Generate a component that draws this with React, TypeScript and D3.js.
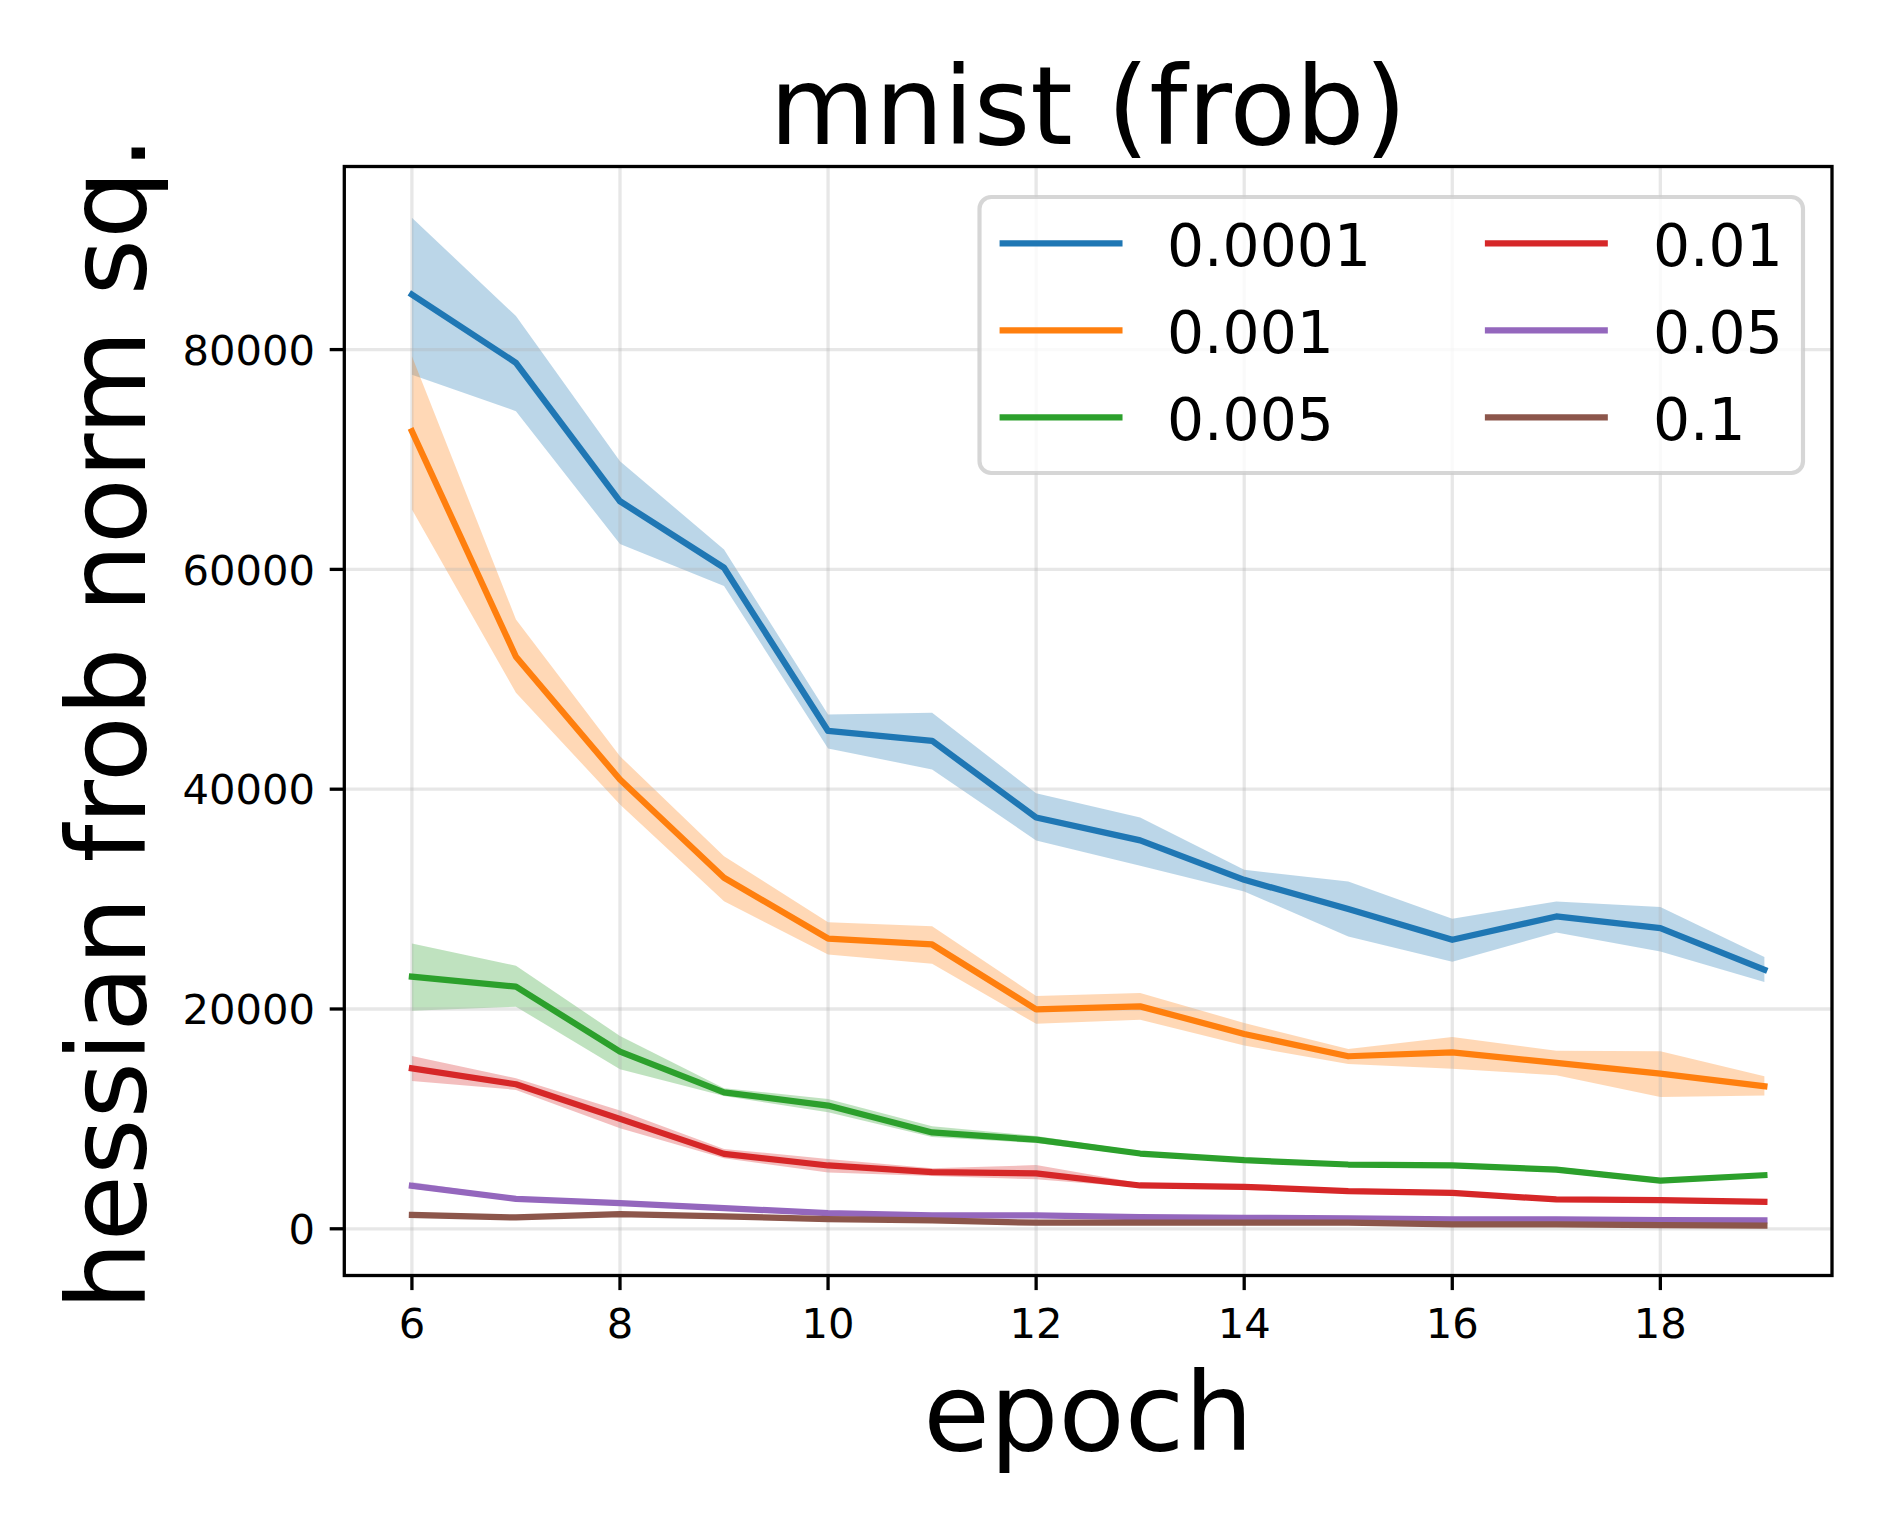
import React from "react";
import * as d3 from "d3";

const epochs = [6, 7, 8, 9, 10, 11, 12, 13, 14, 15, 16, 17, 18, 19];

const labels = ["0.0001", "0.001", "0.005", "0.01", "0.05", "0.1"];
const colors = ["#1f77b4", "#ff7f0e", "#2ca02c", "#d62728", "#9467bd", "#8c564b"];

const mean0001 = [85000, 78800, 66200, 60150, 45300, 44400, 37430, 35340, 31750, 29090, 26300, 28420, 27360, 23570];
const lo0001 = [77700, 74400, 62300, 58500, 43700, 41800, 35340, 33040, 30700, 26600, 24300, 26970, 25240, 22450];
const hi0001 = [92000, 83050, 69850, 61800, 46800, 46950, 39630, 37430, 32660, 31600, 28210, 29780, 29270, 24720];

const mean001 = [72570, 52050, 40880, 31940, 26410, 25870, 19970, 20240, 17730, 15700, 16060, 15090, 14120, 12970];
const lo001 = [65450, 48770, 38610, 29810, 24960, 24110, 18650, 19030, 16670, 15000, 14570, 13970, 12000, 12120];
const hi001 = [79400, 55440, 43000, 33900, 27900, 27530, 21180, 21450, 18730, 16360, 17450, 16210, 16150, 13880];

const mean005 = [22940, 22030, 16120, 12420, 11210, 8770, 8110, 6850, 6240, 5850, 5760, 5390, 4390, 4880];
const lo005 = [19850, 20210, 14510, 12090, 10600, 8350, 7800, 6650, 6050, 5700, 5600, 5150, 4150, 4700];
const hi005 = [25970, 23940, 17540, 12790, 11820, 9340, 8450, 7050, 6400, 6000, 5900, 5650, 4600, 5050];

const mean01 = [14600, 13150, 10000, 6820, 5760, 5150, 5050, 3940, 3820, 3420, 3270, 2670, 2610, 2450];
const lo01 = [13450, 12640, 9150, 6420, 5120, 4800, 4500, 3750, 3650, 3300, 3150, 2550, 2500, 2350];
const hi01 = [15730, 13700, 10760, 7270, 6360, 5500, 5800, 4150, 3980, 3550, 3400, 2800, 2720, 2550];

const mean05 = [3910, 2730, 2330, 1880, 1420, 1210, 1210, 1060, 1000, 940, 850, 850, 790, 760];
const lo05 = [3650, 2600, 2200, 1780, 1330, 1130, 1130, 990, 930, 880, 790, 790, 730, 700];
const hi05 = [4250, 2850, 2450, 1980, 1510, 1290, 1290, 1130, 1070, 1000, 910, 910, 850, 820];

const mean1 = [1270, 1030, 1330, 1120, 880, 770, 550, 550, 550, 550, 400, 400, 330, 300];
const lo1 = [1190, 950, 1250, 1040, 800, 690, 470, 470, 470, 470, 320, 320, 250, 220];
const hi1 = [1350, 1110, 1410, 1200, 960, 850, 630, 630, 630, 630, 480, 480, 410, 380];

const means = [mean0001, mean001, mean005, mean01, mean05, mean1];
const lows = [lo0001, lo001, lo005, lo01, lo05, lo1];
const highs = [hi0001, hi001, hi005, hi01, hi05, hi1];

const xTicks = [6, 8, 10, 12, 14, 16, 18];
const yTicks = [0, 20000, 40000, 60000, 80000];

const titleText = "mnist (frob)";
const xLabelText = "epoch";
const yLabelText = "hessian frob norm sq.";

const W = 1892;
const H = 1530;
const L = 344.3;
const R = 1832;
const T = 166.5;
const B = 1275.5;
const FONT = "DejaVu Sans";

export default function App() {
  const x = d3.scaleLinear().domain([5.35, 19.65]).range([L, R]);
  const y = d3.scaleLinear().domain([-4250, 96660]).range([B, T]);

  const line = d3
    .line<number>()
    .x((_, i) => x(epochs[i]))
    .y((d) => y(d));

  const area = (lo: number[], hi: number[]) =>
    d3
      .area<number>()
      .x((_, i) => x(epochs[i]))
      .y0((_, i) => y(lo[i]))
      .y1((_, i) => y(hi[i]))(epochs) || "";

  const tickLen = 14.6;
  const lw = 6.25;
  const bigFont = 108.3;

  // legend layout
  const legFont = 58.3;
  const legBox = { x: 979.5, y: 197, w: 823.5, h: 276 };
  const rowY = [243.3, 330.3, 417.3];
  const colHandleX = [1002.7, 1488];
  const colTextX = [1167, 1653];
  const handleLen = 116.7;

  return (
    <div style={{ position: "absolute", left: 0, top: 0 }}>
      <svg width={W} height={H} viewBox={`0 0 ${W} ${H}`} style={{ display: "block", background: "#ffffff" }}>
        <rect x={0} y={0} width={W} height={H} fill="#ffffff" />
        {/* bands */}
        {means.map((_, k) => (
          <path key={"band" + k} d={area(lows[k], highs[k])} fill={colors[k]} fillOpacity={0.3} stroke="none" />
        ))}
        {/* grid */}
        {xTicks.map((t) => (
          <line key={"gx" + t} x1={x(t)} x2={x(t)} y1={T} y2={B} stroke="#b0b0b0" strokeOpacity={0.3} strokeWidth={3.3} />
        ))}
        {yTicks.map((t) => (
          <line key={"gy" + t} x1={L} x2={R} y1={y(t)} y2={y(t)} stroke="#b0b0b0" strokeOpacity={0.3} strokeWidth={3.3} />
        ))}
        {/* lines */}
        {means.map((m, k) => (
          <path
            key={"line" + k}
            d={line(m) || ""}
            fill="none"
            stroke={colors[k]}
            strokeWidth={lw}
            strokeLinejoin="round"
            strokeLinecap="square"
          />
        ))}
        {/* spines */}
        <rect x={L} y={T} width={R - L} height={B - T} fill="none" stroke="#000" strokeWidth={3.3} />
        {/* x ticks */}
        {xTicks.map((t) => (
          <g key={"xt" + t}>
            <line x1={x(t)} x2={x(t)} y1={B} y2={B + tickLen} stroke="#000" strokeWidth={3.3} />
            <text x={x(t)} y={1337.5} textAnchor="middle" fontFamily={FONT} fontSize={41.7} fill="#000">
              {String(t)}
            </text>
          </g>
        ))}
        {/* y ticks */}
        {yTicks.map((t) => (
          <g key={"yt" + t}>
            <line x1={L - tickLen} x2={L} y1={y(t)} y2={y(t)} stroke="#000" strokeWidth={3.3} />
            <text x={L - tickLen - 14.6} y={y(t) + 15.2} textAnchor="end" fontFamily={FONT} fontSize={41.7} fill="#000">
              {String(t)}
            </text>
          </g>
        ))}
        {/* title */}
        <text x={(L + R) / 2} y={143.5} textAnchor="middle" fontFamily={FONT} fontSize={bigFont} fill="#000">
          {titleText}
        </text>
        {/* x label */}
        <text x={(L + R) / 2} y={1450} textAnchor="middle" fontFamily={FONT} fontSize={bigFont} fill="#000">
          {xLabelText}
        </text>
        {/* y label */}
        <text
          transform={`translate(145, ${(T + B) / 2 + 2}) rotate(-90)`}
          textAnchor="middle"
          fontFamily={FONT}
          fontSize={bigFont}
          fill="#000"
        >
          {yLabelText}
        </text>
        {/* legend */}
        <rect
          x={legBox.x}
          y={legBox.y}
          width={legBox.w}
          height={legBox.h}
          rx={11.7}
          ry={11.7}
          fill="#ffffff"
          fillOpacity={0.8}
          stroke="#cccccc"
          strokeOpacity={0.8}
          strokeWidth={4.17}
        />
        {labels.map((lab, k) => {
          const col = Math.floor(k / 3);
          const row = k % 3;
          const ly = rowY[row];
          return (
            <g key={"leg" + k}>
              <line
                x1={colHandleX[col]}
                x2={colHandleX[col] + handleLen}
                y1={ly}
                y2={ly}
                stroke={colors[k]}
                strokeWidth={lw}
                strokeLinecap="square"
              />
              <text x={colTextX[col]} y={ly + 22.5} fontFamily={FONT} fontSize={legFont} fill="#000">
                {lab}
              </text>
            </g>
          );
        })}
      </svg>
    </div>
  );
}
